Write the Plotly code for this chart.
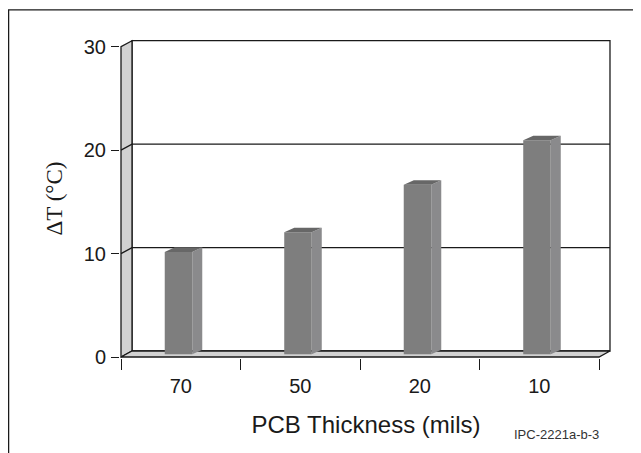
import plotly.graph_objects as go

# data
thickness = ['70', '50', '20', '10']          # PCB thickness (mils)
delta_t = [9.9, 11.8, 16.4, 20.7]             # temperature rise (deg C)
y_ticks = [0, 10, 20, 30]

# fake 3D look (axis units)
DX, DY = 0.092, 0.58          # depth of walls / floor
BDX, BDY = 0.084, 0.44        # depth of each bar
LIFT = 0.26                   # bars stand a bit behind the front edge
BAR_OFF, BAR_W = -0.134, 0.230

xs = list(range(len(thickness)))
x0, x1 = -0.5, len(thickness) - 0.5
top = y_ticks[-1]

fig = go.Figure()

# front faces of the bars
fig.add_trace(go.Bar(x=xs, y=delta_t, base=[LIFT] * len(xs), offset=BAR_OFF, width=BAR_W,
                     marker=dict(color='#7e7e7e', line=dict(width=0)), hoverinfo='skip'))

# side and top faces
sx, sy, tx, ty = [], [], [], []
for x, v in zip(xs, delta_t):
    l = x + BAR_OFF
    r = l + BAR_W
    sx += [r, r + BDX, r + BDX, r, r, None]
    sy += [LIFT, LIFT + BDY, LIFT + v + BDY, LIFT + v, LIFT, None]
    tx += [l, r, r + BDX, l + BDX, l, None]
    ty += [LIFT + v, LIFT + v, LIFT + v + BDY, LIFT + v + BDY, LIFT + v, None]
fig.add_trace(go.Scatter(x=sx, y=sy, fill='toself', fillcolor='#8a8a8c', mode='none', hoverinfo='skip'))
fig.add_trace(go.Scatter(x=tx, y=ty, fill='toself', fillcolor='#676767', mode='none', hoverinfo='skip'))

line = dict(color='#1a1a1a', width=1.3)
shapes = [
    # back wall
    dict(type='path', path=f'M {x0+DX} {DY} L {x0+DX} {top+DY} L {x1+DX} {top+DY} L {x1+DX} {DY} Z',
         fillcolor='white', line=line),
    # left wall
    dict(type='path', path=f'M {x0} 0 L {x0} {top} L {x0+DX} {top+DY} L {x0+DX} {DY} Z',
         fillcolor='#d2d2d2', line=line),
    # floor
    dict(type='path', path=f'M {x0} 0 L {x1} 0 L {x1+DX} {DY} L {x0+DX} {DY} Z',
         fillcolor='#d2d2d2', line=line),
]
for v in y_ticks[1:-1]:
    shapes.append(dict(type='path', path=f'M {x0} {v} L {x0+DX} {v+DY} L {x1+DX} {v+DY}', line=line))
for s in shapes:
    s.update(xref='x', yref='y', layer='below')

# outer frame
shapes.append(dict(type='rect', xref='paper', yref='paper', x0=-0.2264, x1=1.3, y0=-0.5, y1=1.091,
                   line=dict(color='#1a1a1a', width=1.3), layer='above'))

fig.update_layout(
    width=641, height=453,
    margin=dict(l=112, r=37, t=31, b=103),
    paper_bgcolor='white', plot_bgcolor='rgba(0,0,0,0)',
    showlegend=False, shapes=shapes,
    font=dict(family='Liberation Sans, Arial, sans-serif', color='#1a1a1a'),
    annotations=[dict(text='IPC-2221a-b-3', xref='paper', yref='paper', x=0.888, y=-0.241,
                      xanchor='center', yanchor='middle', showarrow=False,
                      font=dict(size=13, color='#333333'))],
)
fig.update_xaxes(
    range=[-0.5084, 3.6088], tickvals=xs, ticktext=thickness, ticks='',
    ticklabelstandoff=14, tickfont=dict(size=20),
    minor=dict(tick0=-0.5, dtick=1, ticks='outside', ticklen=11, tickwidth=1.3,
               tickcolor='#1a1a1a', showgrid=False),
    showgrid=False, zeroline=False, showline=False,
    title=dict(text='PCB Thickness (mils)', font=dict(size=24), standoff=20),
)
fig.update_yaxes(
    range=[-0.0967, 30.746], tickvals=y_ticks, ticks='outside', ticklen=8, tickwidth=1.3,
    tickcolor='#1a1a1a', ticklabelstandoff=1, tickfont=dict(size=20),
    showgrid=False, zeroline=False, showline=False,
    title=dict(text='ΔT (°C)', font=dict(size=23, family='Liberation Serif, Times New Roman, serif'),
               standoff=14),
)

fig.write_html('out.html')
